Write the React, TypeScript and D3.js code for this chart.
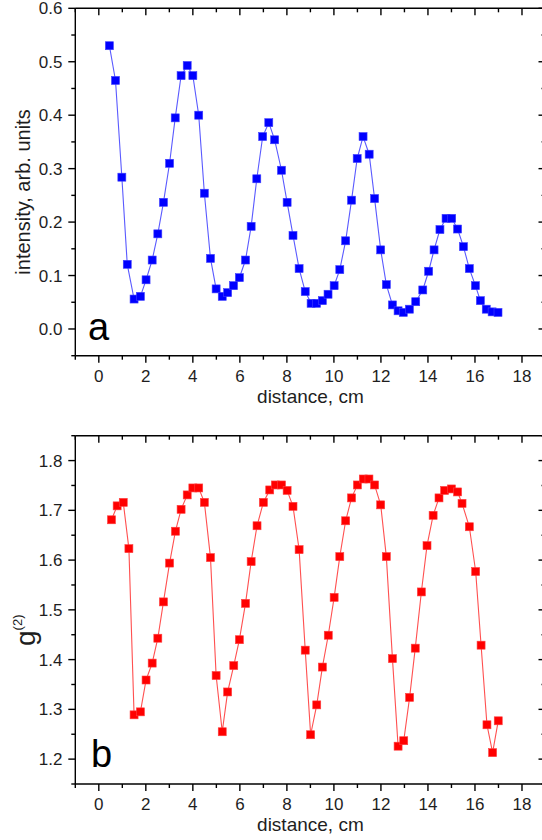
import React from 'react';
import * as d3 from 'd3';

const W = 542;
const H = 840;

// Panel a: intensity vs distance
const distA = [0.45, 0.71, 0.98, 1.21, 1.5, 1.77, 2.01, 2.27, 2.51, 2.75, 3.01, 3.25, 3.5, 3.76, 4.0, 4.25, 4.49, 4.75, 4.99, 5.25, 5.48, 5.73, 5.98, 6.24, 6.48, 6.72, 6.97, 7.23, 7.48, 7.77, 8.01, 8.26, 8.52, 8.78, 9.03, 9.26, 9.51, 9.75, 10.01, 10.25, 10.5, 10.75, 10.99, 11.24, 11.5, 11.73, 11.99, 12.23, 12.49, 12.73, 12.95, 13.21, 13.48, 13.78, 14.03, 14.26, 14.51, 14.77, 15.01, 15.26, 15.51, 15.76, 16.02, 16.23, 16.48, 16.73, 16.98];
const intensity = [0.53, 0.465, 0.284, 0.121, 0.056, 0.061, 0.092, 0.129, 0.178, 0.237, 0.31, 0.395, 0.474, 0.493, 0.474, 0.4, 0.254, 0.132, 0.075, 0.061, 0.068, 0.081, 0.096, 0.129, 0.192, 0.281, 0.36, 0.386, 0.354, 0.297, 0.237, 0.175, 0.113, 0.07, 0.048, 0.048, 0.053, 0.065, 0.081, 0.111, 0.165, 0.241, 0.319, 0.36, 0.327, 0.244, 0.148, 0.083, 0.045, 0.034, 0.031, 0.037, 0.051, 0.073, 0.108, 0.148, 0.186, 0.207, 0.207, 0.187, 0.154, 0.113, 0.081, 0.053, 0.037, 0.032, 0.031];

// Panel b: g(2) vs distance
const distB = [0.54, 0.78, 1.04, 1.28, 1.5, 1.77, 2.01, 2.27, 2.51, 2.75, 3.01, 3.26, 3.5, 3.76, 4.0, 4.25, 4.49, 4.75, 4.99, 5.25, 5.48, 5.74, 5.98, 6.24, 6.48, 6.73, 7.0, 7.27, 7.51, 7.77, 8.01, 8.26, 8.52, 8.78, 9.01, 9.27, 9.51, 9.76, 10.01, 10.25, 10.5, 10.75, 11.0, 11.25, 11.49, 11.73, 11.99, 12.23, 12.49, 12.73, 12.97, 13.22, 13.46, 13.72, 13.96, 14.22, 14.47, 14.71, 15.0, 15.26, 15.45, 15.76, 16.03, 16.26, 16.51, 16.75, 16.99];
const g2 = [1.681, 1.709, 1.716, 1.623, 1.289, 1.295, 1.359, 1.393, 1.443, 1.516, 1.594, 1.658, 1.702, 1.731, 1.745, 1.745, 1.716, 1.605, 1.368, 1.255, 1.335, 1.388, 1.44, 1.513, 1.597, 1.669, 1.716, 1.741, 1.751, 1.751, 1.74, 1.708, 1.621, 1.419, 1.249, 1.309, 1.385, 1.449, 1.525, 1.607, 1.679, 1.725, 1.751, 1.763, 1.763, 1.751, 1.711, 1.607, 1.402, 1.226, 1.237, 1.324, 1.423, 1.536, 1.629, 1.69, 1.725, 1.74, 1.743, 1.737, 1.714, 1.667, 1.577, 1.429, 1.269, 1.213, 1.277];

const xMajorTicks = [0, 2, 4, 6, 8, 10, 12, 14, 16, 18];
const xMinorTicks = [-1, 1, 3, 5, 7, 9, 11, 13, 15, 17, 19];
const yMajorA = [0, 0.1, 0.2, 0.3, 0.4, 0.5, 0.6];
const yMinorA = [-0.05, 0.05, 0.15, 0.25, 0.35, 0.45, 0.55];
const yMajorB = [1.2, 1.3, 1.4, 1.5, 1.6, 1.7, 1.8];
const yMinorB = [1.15, 1.25, 1.35, 1.45, 1.55, 1.65, 1.75, 1.85];

const FONT = '"Liberation Sans", Arial, Helvetica, sans-serif';
const TXT = '#1e1e1e';

type PanelProps = {
  xs: number[];
  ys: number[];
  yDomain: [number, number];
  top: number;
  bottom: number;
  yMajor: number[];
  yMinor: number[];
  fill: string;
  lineColor: string;
  edge: string;
  letter: string;
  letterX: number;
  letterY: number;
  yTitle: React.ReactNode;
};

const LEFT = 75.3;
const RIGHT = 545.5;

function Panel(p: PanelProps) {
  const x = d3.scaleLinear().domain([-1, 19]).range([LEFT, RIGHT]);
  const y = d3.scaleLinear().domain(p.yDomain).range([p.bottom, p.top]);
  const pts = p.xs.map((d, i) => [d, p.ys[i]] as [number, number]);
  const line = d3.line<[number, number]>().x(d => x(d[0])).y(d => y(d[1]));
  const fmt = d3.format('.1f');
  const MAJ = 7;
  const MIN = 4;
  const ax = { stroke: '#000', strokeWidth: 1.4 };
  return (
    <g>
      <path d={line(pts) || ''} fill="none" stroke={p.lineColor} strokeWidth={1.1} />
      {pts.map((d, i) => (
        <rect key={i} x={x(d[0]) - 4} y={y(d[1]) - 4} width={8} height={8} fill={p.fill} stroke={p.edge} strokeWidth={0.6} />
      ))}
      {/* frame */}
      <line x1={LEFT} x2={LEFT} y1={p.top} y2={p.bottom} {...ax} />
      <line x1={RIGHT} x2={RIGHT} y1={p.top} y2={p.bottom} {...ax} />
      <line x1={LEFT} x2={RIGHT} y1={p.bottom} y2={p.bottom} {...ax} />
      <line x1={LEFT} x2={RIGHT} y1={p.top} y2={p.top} {...ax} />
      {/* x ticks */}
      {xMajorTicks.map(t => (
        <g key={'xM' + t}>
          <line x1={x(t)} x2={x(t)} y1={p.bottom} y2={p.bottom + MAJ} {...ax} />
          <line x1={x(t)} x2={x(t)} y1={p.top} y2={p.top + MAJ} {...ax} />
          <text x={x(t)} y={p.bottom + 26} textAnchor="middle" fontSize={17} fontFamily={FONT} fill={TXT}>{t}</text>
        </g>
      ))}
      {xMinorTicks.map(t => (
        <g key={'xm' + t}>
          <line x1={x(t)} x2={x(t)} y1={p.bottom} y2={p.bottom + MIN} {...ax} />
          <line x1={x(t)} x2={x(t)} y1={p.top} y2={p.top + MIN} {...ax} />
        </g>
      ))}
      {/* y ticks */}
      {p.yMajor.map(t => (
        <g key={'yM' + t}>
          <line x1={LEFT} x2={LEFT - MAJ} y1={y(t)} y2={y(t)} {...ax} />
          <line x1={RIGHT} x2={RIGHT - MAJ} y1={y(t)} y2={y(t)} {...ax} />
          <text x={62.5} y={y(t)} dy="0.36em" textAnchor="end" fontSize={17} fontFamily={FONT} fill={TXT}>{fmt(t)}</text>
        </g>
      ))}
      {p.yMinor.map(t => (
        <g key={'ym' + t}>
          <line x1={LEFT} x2={LEFT - MIN} y1={y(t)} y2={y(t)} {...ax} />
          <line x1={RIGHT} x2={RIGHT - MIN} y1={y(t)} y2={y(t)} {...ax} />
        </g>
      ))}
      <text x={(LEFT + RIGHT) / 2} y={p.bottom + 47} textAnchor="middle" fontSize={19} fontFamily={FONT} fill={TXT}>distance, cm</text>
      <text x={p.letterX} y={p.letterY} fontSize={38} fontFamily={FONT} fill="#000">{p.letter}</text>
      {p.yTitle}
    </g>
  );
}

export default function App() {
  return (
    <svg width={W} height={H} viewBox={`0 0 ${W} ${H}`} style={{ position: 'absolute', left: 0, top: 0, background: '#fff' }}>
      <rect x={0} y={0} width={W} height={H} fill="#fff" />
      <Panel
        xs={distA}
        ys={intensity}
        yDomain={[-0.05, 0.6]}
        top={8.3}
        bottom={355.7}
        yMajor={yMajorA}
        yMinor={yMinorA}
        fill="#0000ff"
        lineColor="#5a5aff"
        edge="#4040ff"
        letter="a"
        letterX={88}
        letterY={340}
        yTitle={
          <text transform="translate(29.5,192) rotate(-90)" textAnchor="middle" fontSize={20} fontFamily={FONT} fill={TXT}>
            intensity, arb. units
          </text>
        }
      />
      <Panel
        xs={distB}
        ys={g2}
        yDomain={[1.15, 1.85]}
        top={435.7}
        bottom={784}
        yMajor={yMajorB}
        yMinor={yMinorB}
        fill="#ff0000"
        lineColor="#ff5050"
        edge="#ff4040"
        letter="b"
        letterX={91}
        letterY={767}
        yTitle={
          <text transform="translate(35,646) rotate(-90)" textAnchor="start" fontFamily={FONT} fill={TXT}>
            <tspan fontSize={28}>g</tspan>
            <tspan fontSize={13} dy={-13}>(2)</tspan>
          </text>
        }
      />
    </svg>
  );
}
